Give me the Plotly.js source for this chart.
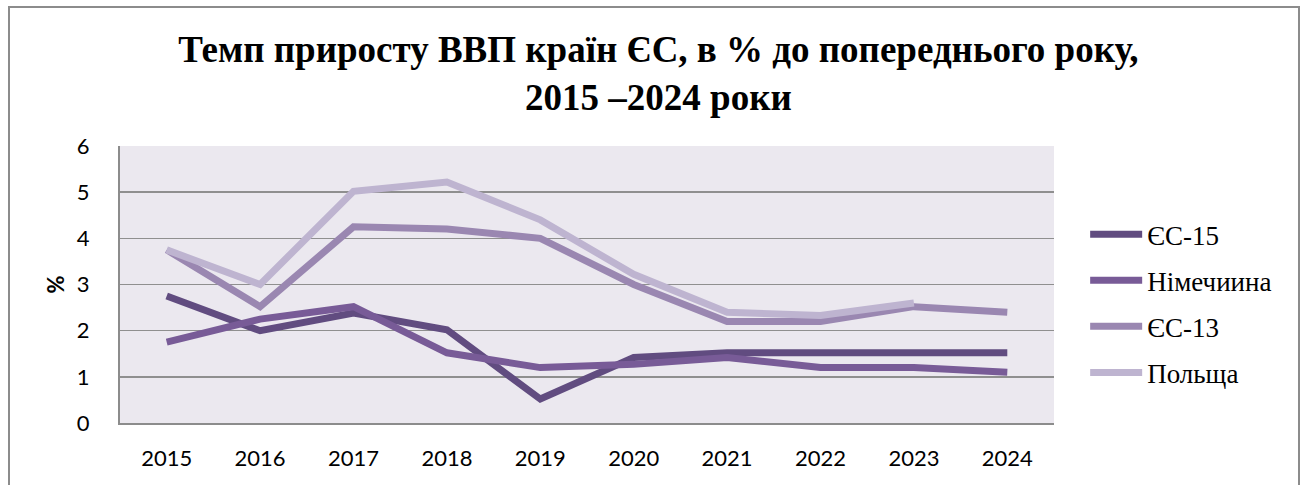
<!DOCTYPE html>
<html>
<head>
<meta charset="utf-8">
<script src="https://cdn.plot.ly/plotly-3.0.1.min.js"></script>
<style>
html,body{margin:0;padding:0;background:#fff;}
#frame{position:absolute;left:8px;top:6px;width:1288px;height:520px;border:2px solid #8c8c8c;}
#chart{position:absolute;left:0;top:0;width:1309px;height:485px;}
</style>
</head>
<body>
<div id="frame"></div>
<div id="chart"></div>
<script>
const years = ['2015','2016','2017','2018','2019','2020','2021','2022','2023','2024'];
const seriesNames = ['ЄС-15','Німечиина','ЄС-13','Польща'];
const eu15 =    [2.75, 2.0, 2.38, 2.02, 0.52, 1.42, 1.52, 1.52, 1.52, 1.52];
const germany = [1.75, 2.25, 2.52, 1.52, 1.2, 1.27, 1.42, 1.2, 1.2, 1.1];
const eu13 =    [3.75, 2.52, 4.25, 4.2, 4.0, 3.0, 2.2, 2.2, 2.52, 2.4];
const poland =  [3.75, 3.0, 5.02, 5.22, 4.4, 3.22, 2.4, 2.33, 2.6, null];
const colors = ['#614c80','#785b97','#9a87b1','#beb4d0'];
const yTicks = [0,1,2,3,4,5,6];

const serif = "'Liberation Serif', 'Times New Roman', serif";
const sans = "Lato, 'Open Sans', sans-serif";

const allSeries = [eu15, germany, eu13, poland];
const traces = allSeries.map((vals, i) => ({
  type: 'scatter',
  mode: 'lines',
  x: years,
  y: vals,
  name: seriesNames[i],
  legendgroup: 'g' + i,
  line: {color: colors[i], width: 7},
  connectgaps: false
}));

const layout = {
  width: 1309,
  height: 485,
  margin: {l: 120, r: 255, t: 146, b: 62},
  paper_bgcolor: 'rgba(0,0,0,0)',
  plot_bgcolor: '#ebe8ef',
  font: {family: serif, color: '#000'},
  showlegend: true,
  title: {
    text: 'Темп приросту ВВП країн ЄС, в % до попереднього року,<br>2015 –2024 роки',
    font: {family: serif, size: 37, color: '#000', weight: 'bold'},
    xref: 'container', x: 0.503, xanchor: 'center',
    yref: 'container', y: 0.872, yanchor: 'top'
  },
  xaxis: {
    type: 'category',
    range: [-0.5, 9.5],
    tickvals: years,
    ticktext: years,
    showgrid: false,
    showline: true,
    linecolor: '#8c8c8c',
    linewidth: 2,
    ticks: '',
    ticklabelstandoff: 15,
    tickfont: {family: sans, size: 22, color: '#000'},
    fixedrange: true
  },
  yaxis: {
    range: [0, 6],
    tickvals: yTicks,
    showgrid: true,
    gridcolor: '#8f8f8f',
    gridwidth: 1.5,
    zeroline: false,
    showline: true,
    linecolor: '#8c8c8c',
    linewidth: 2,
    ticks: '',
    ticklabelstandoff: 24,
    tickfont: {family: sans, size: 22, color: '#000'},
    title: {text: '%', font: {family: sans, size: 22, color: '#000', weight: 'bold'}, standoff: 6},
    fixedrange: true
  },
  legend: {
    xref: 'container', x: 0.829, xanchor: 'left',
    yref: 'container', y: 0.374, yanchor: 'middle',
    traceorder: 'grouped',
    tracegroupgap: 8,
    itemwidth: 52,
    font: {family: serif, size: 27, color: '#000'},
    bgcolor: 'rgba(0,0,0,0)'
  }
};

Plotly.newPlot('chart', traces, layout, {displayModeBar: false, staticPlot: true});
</script>
</body>
</html>
